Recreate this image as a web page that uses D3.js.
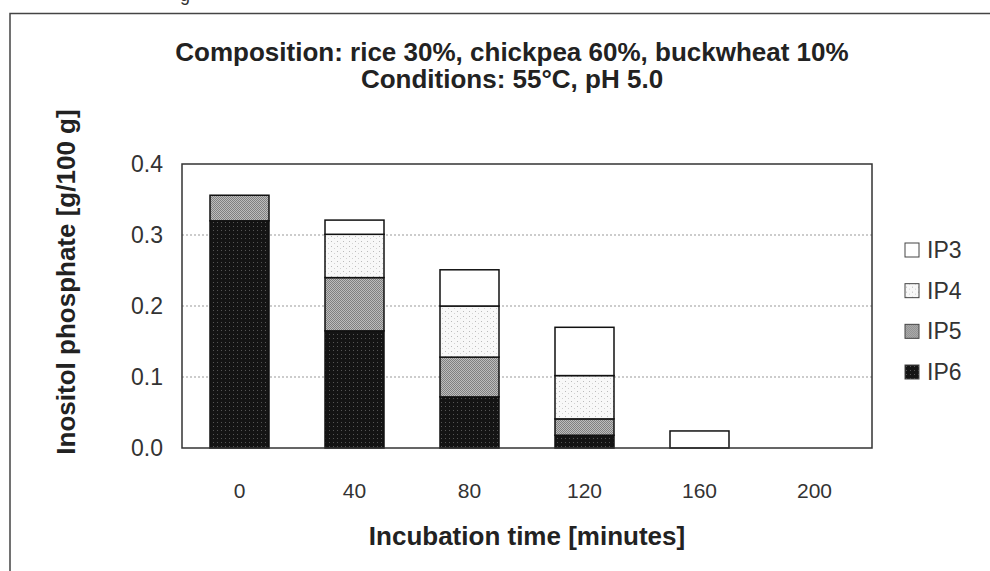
<!DOCTYPE html>
<html><head><meta charset="utf-8">
<script src="https://cdn.jsdelivr.net/npm/d3@7"></script>
<style>html,body{margin:0;padding:0;background:#fff;}svg{display:block;}</style>
</head><body>
<svg id="c" width="990" height="571"></svg>
<script>
const categories = ["0","40","80","120","160","200"];
const seriesNames = ["IP6","IP5","IP4","IP3"];
const ip6 = [0.320, 0.165, 0.072, 0.018, 0, 0];
const ip5 = [0.036, 0.075, 0.056, 0.023, 0, 0];
const ip4 = [0, 0.061, 0.072, 0.061, 0, 0];
const ip3 = [0, 0.020, 0.051, 0.068, 0.024, 0];
const yTicks = [0.0, 0.1, 0.2, 0.3, 0.4];
const gridTicks = [0.1, 0.2, 0.3];
const titleLines = ["Composition: rice 30%, chickpea 60%, buckwheat 10%", "Conditions: 55°C, pH 5.0"];
const yTitle = "Inositol phosphate [g/100 g]";
const xTitle = "Incubation time [minutes]";
const legendOrder = ["IP3","IP4","IP5","IP6"];

const FONT = "'Liberation Sans', Arial, Helvetica, sans-serif";
const svg = d3.select("#c");
const defs = svg.append("defs");

// textures
const p6 = defs.append("pattern").attr("id","p6").attr("width",4).attr("height",4).attr("patternUnits","userSpaceOnUse");
p6.append("rect").attr("width",4).attr("height",4).attr("fill","#141414");
p6.append("rect").attr("x",1).attr("y",2).attr("width",1).attr("height",1).attr("fill","#555");
const p5 = defs.append("pattern").attr("id","p5").attr("width",2).attr("height",2).attr("patternUnits","userSpaceOnUse");
p5.append("rect").attr("width",2).attr("height",2).attr("fill","#bdbdbd");
p5.append("rect").attr("width",1).attr("height",1).attr("fill","#808080");
p5.append("rect").attr("x",1).attr("y",1).attr("width",1).attr("height",1).attr("fill","#808080");
const p4 = defs.append("pattern").attr("id","p4").attr("width",6).attr("height",5).attr("patternUnits","userSpaceOnUse");
p4.append("rect").attr("width",6).attr("height",5).attr("fill","#f8f8f8");
p4.append("rect").attr("x",1).attr("y",1).attr("width",1).attr("height",1).attr("fill","#bbbbbb");
p4.append("rect").attr("x",4).attr("y",3).attr("width",1).attr("height",1).attr("fill","#d2d2d2");
const fills = {IP6:"url(#p6)", IP5:"url(#p5)", IP4:"url(#p4)", IP3:"#ffffff"};

// outer frame
svg.append("rect").attr("x",10).attr("y",13.5).attr("width",1200).attr("height",800)
  .attr("fill","none").attr("stroke","#444").attr("stroke-width",1.5);
// cut-off caption glyph
svg.append("text").attr("x",180).attr("y",1).attr("font-family",FONT).attr("font-size",18).attr("fill","#333").text("g");

const L=182, R=872, T=164, B=448;
const x = d3.scaleBand().domain(categories).range([L,R]).paddingInner(0.487).paddingOuter(0.2435);
const y = d3.scaleLinear().domain([0,0.4]).range([B,T]);

// gridlines
svg.append("g").selectAll("line").data(gridTicks).join("line")
  .attr("x1",L).attr("x2",R).attr("y1",d=>y(d)).attr("y2",d=>y(d))
  .attr("stroke","#999").attr("stroke-width",1).attr("stroke-dasharray","2,2");

// stacked bars
const table = categories.map((c,i)=>({cat:c, IP6:ip6[i], IP5:ip5[i], IP4:ip4[i], IP3:ip3[i]}));
const stack = d3.stack().keys(seriesNames)(table);
const gb = svg.append("g");
stack.forEach(layer=>{
  gb.selectAll(null).data(layer.filter(d=>d[1]-d[0]>0)).join("rect")
    .attr("x",d=>x(d.data.cat)).attr("width",x.bandwidth())
    .attr("y",d=>y(d[1])).attr("height",d=>y(d[0])-y(d[1]))
    .attr("fill",fills[layer.key]).attr("stroke","#111").attr("stroke-width",1.5);
});

// plot frame
svg.append("rect").attr("x",L).attr("y",T).attr("width",R-L).attr("height",B-T)
  .attr("fill","none").attr("stroke","#333").attr("stroke-width",1.5);

// y axis labels
const yAxis = d3.axisLeft(y).tickValues(yTicks).tickFormat(d3.format(".1f")).tickSize(0).tickPadding(19);
const ga = svg.append("g").attr("transform",`translate(${L},0)`).call(yAxis);
ga.select(".domain").remove();
ga.selectAll("text").attr("font-family",FONT).attr("font-size",23).attr("fill","#333");

// x axis labels
const xAxis = d3.axisBottom(x).tickSize(0).tickPadding(35);
const gx = svg.append("g").attr("transform",`translate(0,${B})`).call(xAxis);
gx.select(".domain").remove();
gx.selectAll("text").attr("font-family",FONT).attr("font-size",21).attr("fill","#333");

// titles
svg.append("g").selectAll("text").data(titleLines).join("text")
  .attr("x",512).attr("y",(d,i)=>61+i*27).attr("text-anchor","middle")
  .attr("font-family",FONT).attr("font-size",26).attr("font-weight","bold").attr("fill","#222").text(d=>d);
svg.append("text").attr("transform",`translate(75,${282}) rotate(-90)`).attr("text-anchor","middle")
  .attr("font-family",FONT).attr("font-size",26).attr("font-weight","bold").attr("fill","#222").text(yTitle);
svg.append("text").attr("x",(L+R)/2).attr("y",545).attr("text-anchor","middle")
  .attr("font-family",FONT).attr("font-size",26).attr("font-weight","bold").attr("fill","#222").text(xTitle);

// legend
const lg = svg.append("g");
const ly = d3.scalePoint().domain(legendOrder).range([250,372]);
const items = lg.selectAll("g").data(legendOrder).join("g").attr("transform",d=>`translate(905,${ly(d)})`);
items.append("rect").attr("x",0).attr("y",-7).attr("width",14).attr("height",14)
  .attr("fill",d=>fills[d]).attr("stroke","#444").attr("stroke-width",1);
items.append("text").attr("x",22).attr("y",0).attr("dy","0.35em")
  .attr("font-family",FONT).attr("font-size",23).attr("fill","#333").text(d=>d);
</script>
</body></html>
